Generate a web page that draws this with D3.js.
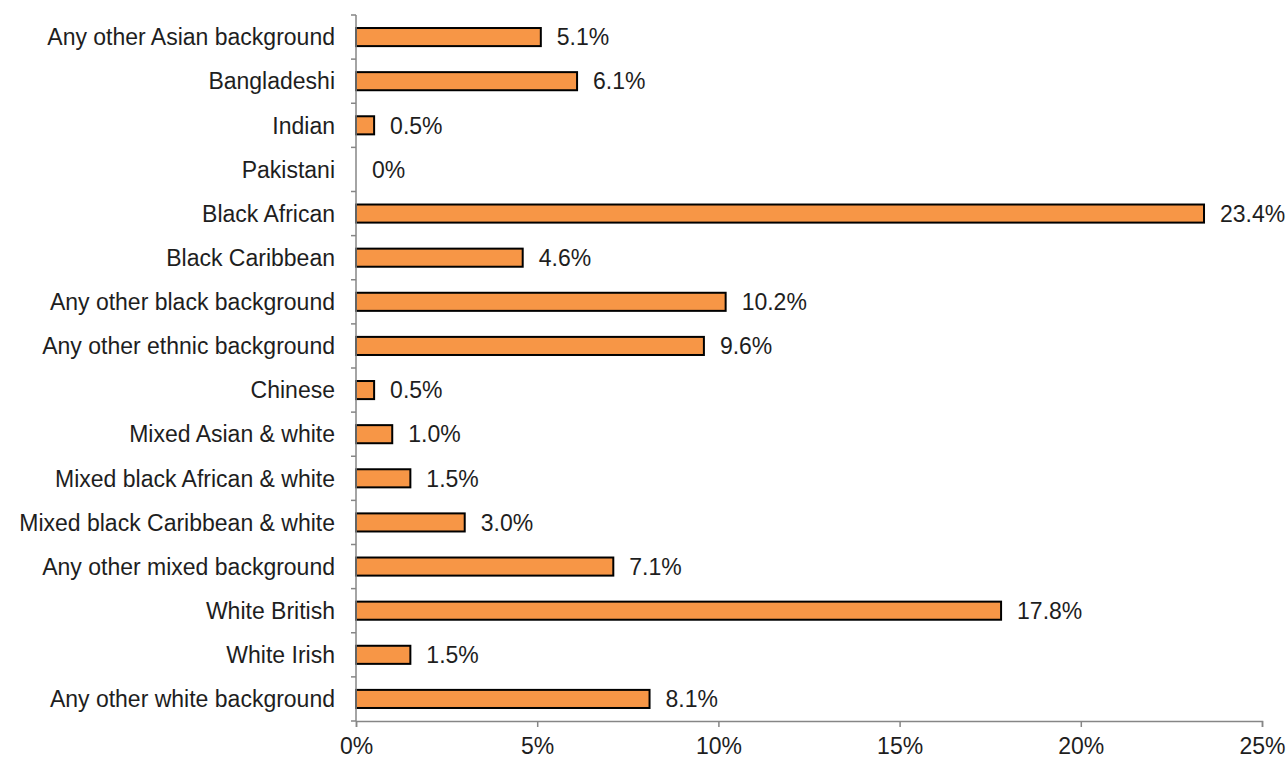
<!DOCTYPE html>
<html>
<head>
<meta charset="utf-8">
<script src="https://cdn.jsdelivr.net/npm/d3@7"></script>
<style>
  body { margin: 0; background: #fff; }
  text { font-family: "Liberation Sans", Arial, sans-serif; }
</style>
</head>
<body>
<script>
var categories = [
    "Any other Asian background", "Bangladeshi", "Indian", "Pakistani",
    "Black African", "Black Caribbean", "Any other black background",
    "Any other ethnic background", "Chinese", "Mixed Asian & white",
    "Mixed black African & white", "Mixed black Caribbean & white",
    "Any other mixed background", "White British", "White Irish",
    "Any other white background"
];
var values = [5.1, 6.1, 0.5, 0, 23.4, 4.6, 10.2, 9.6, 0.5, 1.0, 1.5, 3.0, 7.1, 17.8, 1.5, 8.1];
var valueLabels = ["5.1%", "6.1%", "0.5%", "0%", "23.4%", "4.6%", "10.2%", "9.6%", "0.5%", "1.0%", "1.5%", "3.0%", "7.1%", "17.8%", "1.5%", "8.1%"];
var xTicks = [0, 5, 10, 15, 20, 25];

var width = 1288, height = 760;
var plotLeft = 356, plotRight = 1262, plotTop = 15, plotBottom = 721;
var fontSize = "23px";
var textColor = "#1e1e1e";

var svg = d3.select("body").append("svg")
    .attr("width", width)
    .attr("height", height);

var xScale = d3.scaleLinear().domain([0, 25]).range([plotLeft, plotRight]);
var yScale = d3.scaleBand().domain(categories).range([plotTop, plotBottom]).paddingInner(0.59).paddingOuter(0.295);

// bars
svg.selectAll("rect.bar")
    .data(categories)
    .enter()
    .append("rect")
    .attr("class", "bar")
    .attr("x", xScale(0))
    .attr("y", (d) => yScale(d))
    .attr("width", (d, i) => xScale(values[i]) - xScale(0))
    .attr("height", yScale.bandwidth())
    .attr("fill", "#f79646")
    .attr("stroke", (d, i) => values[i] > 0 ? "#000" : "none")
    .attr("stroke-width", 2);

// value labels
svg.selectAll("text.val")
    .data(categories)
    .enter()
    .append("text")
    .attr("class", "val")
    .text((d, i) => valueLabels[i])
    .attr("x", (d, i) => xScale(values[i]) + 16)
    .attr("y", (d) => yScale(d) + yScale.bandwidth() / 2)
    .attr("dy", "0.36em")
    .attr("font-size", fontSize)
    .attr("fill", textColor);

// y axis line + ticks at band edges
var axisColor = "#868686";
svg.append("line")
    .attr("x1", plotLeft).attr("x2", plotLeft)
    .attr("y1", plotTop).attr("y2", plotBottom)
    .attr("stroke", axisColor).attr("stroke-width", 1.5);

var edges = d3.range(categories.length + 1).map((i) => plotTop + i * (plotBottom - plotTop) / categories.length);
svg.selectAll("line.ytick")
    .data(edges)
    .enter()
    .append("line")
    .attr("x1", plotLeft - 5).attr("x2", plotLeft)
    .attr("y1", (d) => d).attr("y2", (d) => d)
    .attr("stroke", axisColor).attr("stroke-width", 1.5);

svg.selectAll("text.cat")
    .data(categories)
    .enter()
    .append("text")
    .attr("class", "cat")
    .text((d) => d)
    .attr("x", 335)
    .attr("y", (d) => yScale(d) + yScale.bandwidth() / 2)
    .attr("dy", "0.36em")
    .attr("text-anchor", "end")
    .attr("font-size", fontSize)
    .attr("fill", textColor);

// x axis
var xAxis = d3.axisBottom(xScale)
    .tickValues(xTicks)
    .tickSize(6)
    .tickFormat((d) => d + "%");

var gx = svg.append("g")
    .attr("transform", "translate(0," + plotBottom + ")")
    .call(xAxis);
gx.select(".domain").attr("stroke", axisColor).attr("stroke-width", 1.5);
gx.selectAll(".tick line").attr("stroke", axisColor).attr("stroke-width", 1.5);
gx.selectAll(".tick text")
    .attr("font-family", "Liberation Sans, Arial, sans-serif")
    .attr("font-size", fontSize)
    .attr("fill", textColor)
    .attr("y", 17);
</script>
</body>
</html>
